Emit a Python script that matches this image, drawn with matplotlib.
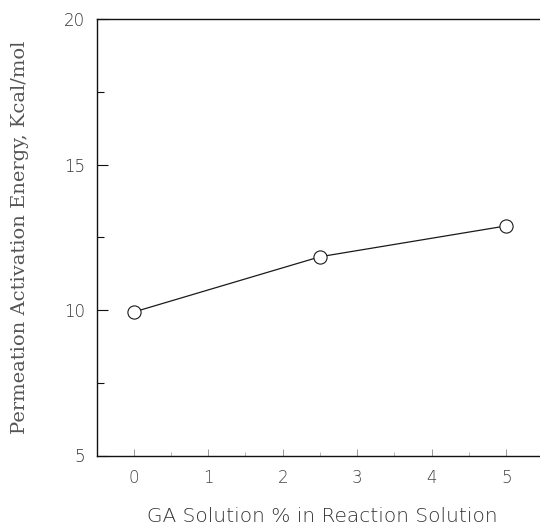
import matplotlib
matplotlib.use("Agg")
import matplotlib.pyplot as plt
from matplotlib.ticker import MultipleLocator

# Data
ga_percent = [0.0, 2.5, 5.0]
activation_energy = [9.93, 11.83, 12.89]
x_ticks = [0, 1, 2, 3, 4, 5]
y_ticks = [5, 10, 15, 20]
x_label = "GA Solution % in Reaction Solution"
y_label = "Permeation Activation Energy, Kcal/mol"

W, H = 540, 527
fig = plt.figure(figsize=(W / 100, H / 100), dpi=100)
fig.patch.set_facecolor("white")

# axes in pixel coordinates (right spine lies just outside the picture)
left_px, right_px, top_px, bottom_px = 96.5, 543.5, 19, 455.5
ax = fig.add_axes([left_px / W, 1 - bottom_px / H,
                   (right_px - left_px) / W, (bottom_px - top_px) / H])

ax.plot(ga_percent, activation_energy, color="#1a1a1a", linewidth=0.9,
        marker="o", markersize=9.5, markerfacecolor="white",
        markeredgecolor="#1a1a1a", markeredgewidth=0.8, zorder=3)

ax.set_xlim(-0.5, 5.5)
ax.set_ylim(5, 20)
ax.set_xticks(x_ticks)
ax.set_yticks(y_ticks)
ax.xaxis.set_minor_locator(MultipleLocator(0.5))
ax.yaxis.set_minor_locator(MultipleLocator(2.5))

for s in ["left", "bottom", "top"]:
    ax.spines[s].set_linewidth(1.0)
    ax.spines[s].set_color("#111111")
ax.spines["right"].set_visible(False)

ax.tick_params(axis="y", which="major", direction="in", length=8, width=0.8,
               pad=8, labelsize=12, colors="#111111", labelcolor="#333333")
ax.tick_params(axis="y", which="minor", direction="in", length=5, width=0.8,
               colors="#111111")
ax.tick_params(axis="x", which="major", direction="in", length=5, width=0.6,
               pad=10, labelsize=12, colors="#888888", labelcolor="#444444")
ax.tick_params(axis="x", which="minor", direction="in", length=3, width=0.6,
               colors="#aaaaaa")
for lab in ax.get_xticklabels() + ax.get_yticklabels():
    lab.set_fontweight("light")

# axis titles placed as figure text at the reference positions
fig.text(322.5 / W, 1 - 517 / H, x_label, ha="center", va="center",
         family="DejaVu Sans", fontweight="light", fontsize=14.5,
         color="#333333")
fig.text(20 / W, 1 - 237 / H, y_label, ha="center", va="center",
         rotation=90, family="DejaVu Serif", fontsize=14,
         color="#555555")

fig.savefig("out.png", dpi=100, facecolor="white")
